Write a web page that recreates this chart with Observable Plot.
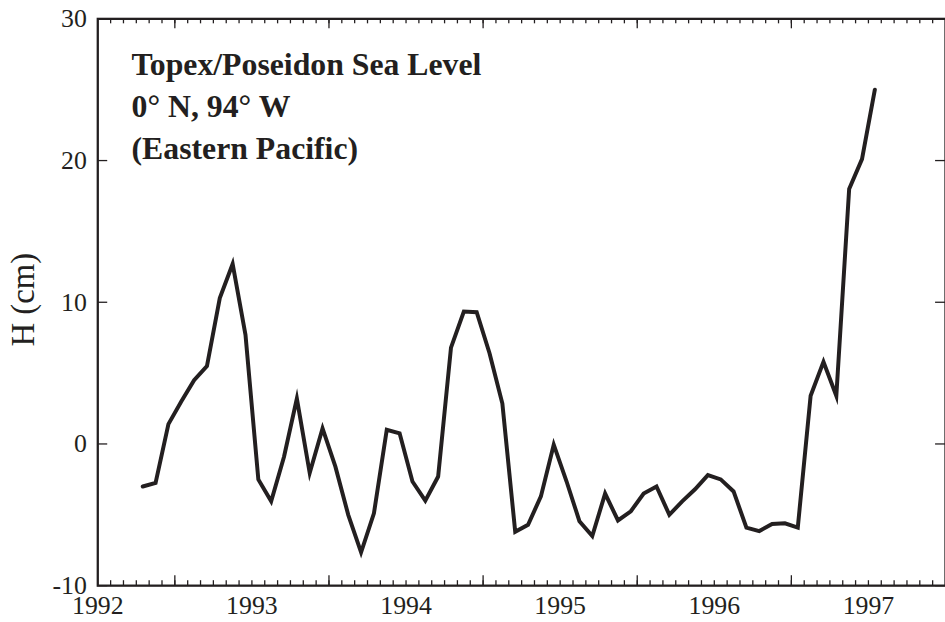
<!DOCTYPE html>
<html>
<head>
<meta charset="utf-8">
<script src="https://cdn.jsdelivr.net/npm/d3@7"></script>
<script src="https://cdn.jsdelivr.net/npm/@observablehq/plot@0.6"></script>
<style>
  html, body { margin: 0; padding: 0; background: #fff; }
  #chart { width: 945px; height: 622px; overflow: hidden; }
</style>
</head>
<body>
<div id="chart"></div>
<script>
// Monthly sea level anomaly at the equator, 94° W (cm)
const months = [
  "1992-10", "1992-11", "1992-12",
  "1993-01", "1993-02", "1993-03", "1993-04", "1993-05", "1993-06",
  "1993-07", "1993-08", "1993-09", "1993-10", "1993-11", "1993-12",
  "1994-01", "1994-02", "1994-03", "1994-04", "1994-05", "1994-06",
  "1994-07", "1994-08", "1994-09", "1994-10", "1994-11", "1994-12",
  "1995-01", "1995-02", "1995-03", "1995-04", "1995-05", "1995-06",
  "1995-07", "1995-08", "1995-09", "1995-10", "1995-11", "1995-12",
  "1996-01", "1996-02", "1996-03", "1996-04", "1996-05", "1996-06",
  "1996-07", "1996-08", "1996-09", "1996-10", "1996-11", "1996-12",
  "1997-01", "1997-02", "1997-03", "1997-04", "1997-05", "1997-06",
  "1997-07"
];
const seaLevel = [
  -3.0, -2.75, 1.4,
  3.0, 4.5, 5.5, 10.3, 12.7, 7.7,
  -2.5, -4.05, -0.9, 3.2, -2.05, 1.1,
  -1.6, -5.0, -7.65, -4.9, 1.0, 0.75,
  -2.65, -4.0, -2.3, 6.8, 9.35, 9.3,
  6.4, 2.85, -6.2, -5.7, -3.7, -0.05,
  -2.65, -5.45, -6.5, -3.5, -5.4, -4.75,
  -3.5, -3.0, -5.0, -4.05, -3.2, -2.2,
  -2.5, -3.35, -5.9, -6.15, -5.65, -5.6,
  -5.9, 3.4, 5.8, 3.4, 18.0, 20.1,
  25.0
];
const yearLabels = [1992, 1993, 1994, 1995, 1996, 1997];
const yTickValues = [-10, 0, 10, 20, 30];
const titleLines = ["Topex/Poseidon Sea Level", "0° N, 94° W", "(Eastern Pacific)"];
const yLabel = "H (cm)";

const ink = "#231f20";
const W = 952, H = 622;
const mL = 98, mR = 0, mT = 18.5, mB = 32.5;
const innerW = W - mL - mR, innerH = H - mT - mB;

// month strings -> decimal year at mid-month
const data = months.map((m, i) => {
  const [yy, mm] = m.split("-").map(Number);
  return { t: yy + (mm - 0.5) / 12, h: seaLevel[i] };
});
const majorTicks = yearLabels.slice(1);
const minorTicks = d3.range(7, 72).map(k => 1992 + k / 12);

const tickStyle = { stroke: ink, strokeWidth: 1.3 };

const chart = Plot.plot({
  width: W,
  height: H,
  marginLeft: mL,
  marginRight: mR,
  marginTop: mT,
  marginBottom: mB,
  style: {
    fontFamily: "'Liberation Serif', 'Times New Roman', serif",
    color: ink,
    background: "#fff"
  },
  x: { domain: [1992.5, 1998], axis: null },
  y: { domain: [-10, 30], axis: null },
  marks: [
    // inward monthly ticks, bottom and top
    Plot.tickX(minorTicks, { x: d => d, insetTop: innerH - 5, ...tickStyle }),
    Plot.tickX(minorTicks, { x: d => d, insetBottom: innerH - 5, ...tickStyle }),
    // inward yearly ticks
    Plot.tickX(majorTicks, { x: d => d, insetTop: innerH - 10, ...tickStyle }),
    Plot.tickX(majorTicks, { x: d => d, insetBottom: innerH - 10, ...tickStyle }),
    // inward y ticks, left and right
    Plot.tickY(yTickValues, { y: d => d, insetRight: innerW - 10, ...tickStyle }),
    Plot.tickY(yTickValues, { y: d => d, insetLeft: innerW - 10, ...tickStyle }),
    Plot.frame({ stroke: ink, strokeWidth: 2.3 }),
    Plot.line(data, {
      x: "t", y: "h",
      stroke: ink, strokeWidth: 4,
      strokeLinejoin: "miter", strokeMiterlimit: 10
    }),
    // y tick labels
    Plot.text(yTickValues, {
      y: d => d, text: d => String(d),
      frameAnchor: "left", textAnchor: "end", dx: -11,
      fontSize: 26, fill: ink
    }),
    // year labels centred in each year
    Plot.text(yearLabels, {
      x: d => d + 0.5, text: d => String(d),
      frameAnchor: "bottom", lineAnchor: "bottom", dy: 28.5,
      fontSize: 26, fill: ink
    }),
    // axis title
    Plot.text([yLabel], {
      text: d => d,
      frameAnchor: "left", textAnchor: "middle", rotate: -90, lineAnchor: "bottom",
      dx: -64.7, dy: -2.5,
      fontSize: 33, fill: ink
    }),
    // in-plot title block
    Plot.text([titleLines.join("\n")], {
      text: d => d,
      frameAnchor: "top-left", textAnchor: "start", lineAnchor: "top",
      lineHeight: 1.33, dx: 34, dy: 26.3,
      fontSize: 32, fontWeight: "bold", fill: ink
    })
  ]
});

document.getElementById("chart").appendChild(chart);
</script>
</body>
</html>
